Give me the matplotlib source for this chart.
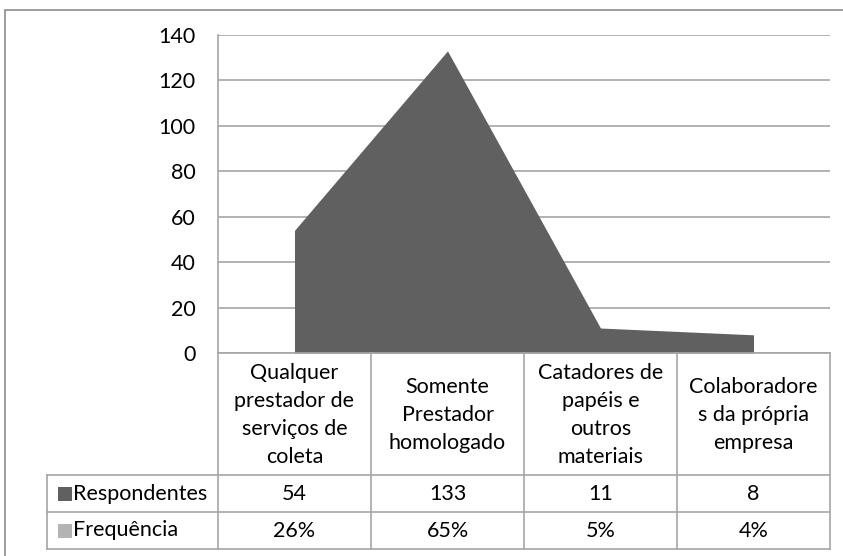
import matplotlib
matplotlib.use("Agg")
import matplotlib.pyplot as plt
from matplotlib.patches import Rectangle
from matplotlib.lines import Line2D
import numpy as np

plt.rcParams['font.family'] = ['Lato', 'DejaVu Sans']

categories = ["Qualquer\nprestador de\nserviços de\ncoleta",
              "Somente\nPrestador\nhomologado",
              "Catadores de\npapéis e\noutros\nmateriais",
              "Colaboradore\ns da própria\nempresa"]
respondentes = [54, 133, 11, 8]
frequencia = ["26%", "65%", "5%", "4%"]
row_names = ["Respondentes", "Frequência"]
yticks = [0, 20, 40, 60, 80, 100, 120, 140]

W, H = 843, 556
AREA = "#606060"
GRID = "#a6a6a6"
TXT = "#000000"
FS = 15.5

fig = plt.figure(figsize=(W / 100, H / 100), dpi=100)


def fx(px):
    return px / W


def fy(py):
    return 1 - py / H


# outer chart border
fig.patches.append(Rectangle((fx(5), fy(600)), fx(900), fy(10) - fy(600),
                             transform=fig.transFigure, fill=False,
                             edgecolor="#8c8c8c", lw=1.2))

left, right, top, bottom = 218, 830, 35, 353
ax = fig.add_axes([fx(left), fy(bottom), fx(right - left), fy(top) - fy(bottom)])

x = np.arange(len(categories))
ax.fill_between(x, respondentes, 0, color=AREA, lw=0)
ax.set_xlim(-0.5, len(categories) - 0.5)
ax.set_ylim(0, 140)
ax.set_yticks(yticks)
ax.set_yticklabels([str(t) for t in yticks], fontsize=FS, color=TXT)
ax.tick_params(axis='y', length=0, pad=16)
ax.set_xticks([])
for t in yticks:
    ax.axhline(t, color=GRID, lw=1.2, zorder=0)
for s in ["top", "right", "bottom"]:
    ax.spines[s].set_visible(False)
ax.spines["left"].set_color(GRID)
ax.spines["left"].set_linewidth(1.2)

# data table
def hline(y, x0, x1):
    fig.add_artist(Line2D([fx(x0), fx(x1)], [fy(y), fy(y)], color=GRID, lw=1.2))


def vline(xp, y0, y1):
    fig.add_artist(Line2D([fx(xp), fx(xp)], [fy(y0), fy(y1)], color=GRID, lw=1.2))


row_tops = [353, 475, 512, 549]
hline(353, left, right)
for y in row_tops[1:]:
    hline(y, 47, right)
col_w = (right - left) / len(categories)
for i in range(len(categories) + 1):
    vline(left + i * col_w, 353, 549)
vline(47, 475, 549)

for i, cat in enumerate(categories):
    cx = left + (i + 0.5) * col_w
    fig.text(fx(cx), fy(415), cat, ha="center", va="center", fontsize=FS,
             color=TXT, linespacing=1.52)
    fig.text(fx(cx), fy(494), str(respondentes[i]), ha="center", va="center",
             fontsize=FS, color=TXT)
    fig.text(fx(cx), fy(531), frequencia[i], ha="center", va="center",
             fontsize=FS, color=TXT)

key_colors = [AREA, "#b3b3b3"]
for j, name in enumerate(row_names):
    yc = (row_tops[j + 1] + row_tops[j + 2]) / 2
    fig.patches.append(Rectangle((fx(58), fy(yc + 7)), fx(14), fy(yc - 7) - fy(yc + 7),
                                 transform=fig.transFigure, color=key_colors[j], lw=0))
    fig.text(fx(73), fy(yc), name, ha="left", va="center", fontsize=FS, color=TXT)

fig.savefig("out.png", dpi=100)
